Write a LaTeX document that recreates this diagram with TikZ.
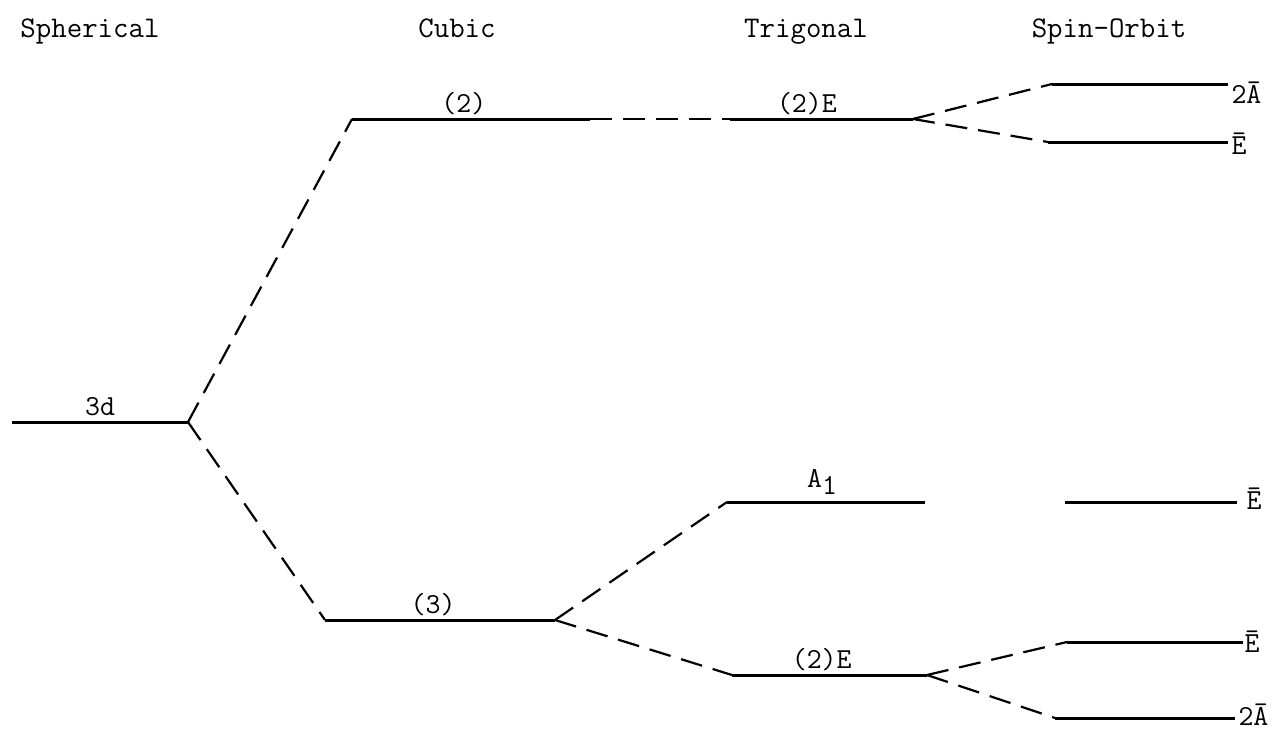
\documentclass[tikz,border=0pt]{standalone}
\usepackage{tikz}
\tikzset{
  level/.style={line width=3pt},
  split/.style={line width=2.2pt, dash pattern=on 22pt off 11pt},
  tag/.style={anchor=west, inner sep=2pt},
  head/.style={anchor=base, font=\fontsize{30}{36}\selectfont\ttfamily},
}
\begin{document}
\begin{tikzpicture}[x=1pt, y=-1pt, every node/.style={font=\fontsize{29}{34}\selectfont\ttfamily}]
	\useasboundingbox (0,0) rectangle (1282,731);
	% column headings
	\node[head] (hSph) at (90,37) {Spherical};
	\node[head] (hCub) at (457,37) {Cubic};
	\node[head] (hTri) at (806,37) {Trigonal};
	\node[head] (hSO) at (1109,37) {Spin-Orbit};
	% level end points
	\coordinate (sL) at (12,422);    \coordinate (sR) at (188,422);
	\coordinate (cUL) at (352,119);  \coordinate (cUR) at (590,119);
	\coordinate (cLL) at (325,620);  \coordinate (cLR) at (555,620);
	\coordinate (tEL) at (730,119);  \coordinate (tER) at (913,119);
	\coordinate (tAL) at (727,502);  \coordinate (tAR) at (925,502);
	\coordinate (tBL) at (732,675);  \coordinate (tBR) at (927,675);
	\coordinate (oAL) at (1052,84);  \coordinate (oAR) at (1228,84);
	\coordinate (oBL) at (1048,142); \coordinate (oBR) at (1228,142);
	\coordinate (oCL) at (1065,502); \coordinate (oCR) at (1237,502);
	\coordinate (oDL) at (1067,642); \coordinate (oDR) at (1243,642);
	\coordinate (oEL) at (1055,718); \coordinate (oER) at (1235,718);
	% levels
	\draw[level] (sL) -- (sR) node[midway, above, inner sep=5pt] (l3d) {3d};
	\draw[level] (cUL) -- (cUR) node[pos=0.47, above, inner sep=3pt] (lc2) {(2)};
	\draw[level] (cLL) -- (cLR) node[pos=0.47, above, inner sep=3pt] (lc3) {(3)};
	\draw[level] (tEL) -- (tER) node[pos=0.42, above, inner sep=3pt] (ltE) {(2)E};
	\draw[level] (tAL) -- (tAR) node[pos=0.48, above, inner sep=6pt] (ltA) {A\raisebox{-7pt}{1}};
	\draw[level] (tBL) -- (tBR) node[pos=0.46, above, inner sep=3pt] (ltB) {(2)E};
	\draw[level] (oAL) -- (oAR) node[tag, yshift=-9pt] (loA) {2Ā};
	\draw[level] (oBL) -- (oBR) node[tag, yshift=-2pt] (loB) {Ē};
	\draw[level] (oCL) -- (oCR) node[tag, xshift=6pt, yshift=3pt] (loC) {Ē};
	\draw[level] (oDL) -- (oDR) node[tag, xshift=-2pt] (loD) {Ē};
	\draw[level] (oEL) -- (oER) node[tag, yshift=3pt] (loE) {2Ā};
	% splittings
	\draw[split] (sR) -- (cUL);
	\draw[split] (sR) -- (cLL);
	\draw[split] (cUR) -- (tEL);
	\draw[split] (cLR) -- (tAL);
	\draw[split] (cLR) -- (tBL);
	\draw[split] (tER) -- (oAL);
	\draw[split] (tER) -- (oBL);
	\draw[split] (tBR) -- (oDL);
	\draw[split] (tBR) -- (oEL);
\end{tikzpicture}
\end{document}
